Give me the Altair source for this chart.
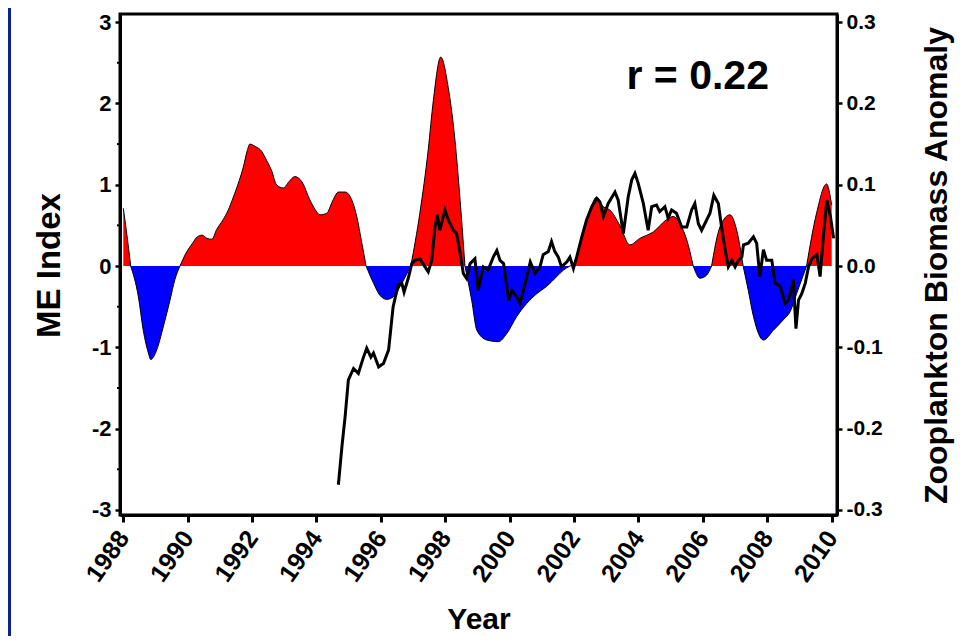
import altair as alt
import pandas as pd

# ---------------- data ----------------
me_year = [1988.00, 1988.10, 1988.23, 1988.47, 1988.62, 1988.78, 1988.85, 1989.04, 1989.24, 1989.45,
           1989.60, 1989.76, 1989.95, 1990.15, 1990.30, 1990.45, 1990.60, 1990.75, 1990.90, 1991.10,
           1991.25, 1991.42, 1991.60, 1991.73, 1991.85, 1991.93, 1992.10, 1992.30, 1992.45, 1992.60,
           1992.76, 1992.97, 1993.15, 1993.33, 1993.54, 1993.80, 1993.95, 1994.11, 1994.32, 1994.50,
           1994.68, 1994.89, 1995.10, 1995.25, 1995.40, 1995.54, 1995.77, 1995.97, 1996.18, 1996.38,
           1996.60, 1996.80, 1996.93, 1997.21, 1997.47, 1997.63, 1997.86, 1998.09, 1998.30, 1998.46,
           1998.61, 1998.82, 1998.98, 1999.29, 1999.65, 1999.91, 2000.22, 2000.53, 2000.84, 2001.15,
           2001.46, 2001.67, 2001.87, 2001.98, 2002.18, 2002.39, 2002.55, 2002.70, 2002.91, 2003.11,
           2003.42, 2003.73, 2004.04, 2004.46, 2004.87, 2005.08, 2005.29, 2005.50, 2005.70, 2005.91,
           2006.12, 2006.27, 2006.53, 2006.84, 2007.05, 2007.25, 2007.41, 2007.57, 2007.88, 2008.19,
           2008.50, 2008.71, 2008.91, 2009.22, 2009.53, 2009.84, 2010.00]

me_value = [0.71, 0.42, 0.0, -0.38, -0.79, -1.07, -1.15, -1.03, -0.75, -0.42,
            -0.17, 0.0, 0.16, 0.28, 0.36, 0.38, 0.34, 0.33, 0.45, 0.57,
            0.68, 0.85, 1.05, 1.22, 1.42, 1.50, 1.47, 1.41, 1.30, 1.18,
            1.00, 0.96, 1.04, 1.10, 1.04, 0.81, 0.70, 0.63, 0.65, 0.80,
            0.91, 0.91, 0.81, 0.61, 0.30, 0.0, -0.21, -0.36, -0.41, -0.38,
            -0.25, -0.10, 0.0, 0.65, 1.43, 2.04, 2.57, 2.20, 1.55, 0.81,
            0.0, -0.42, -0.79, -0.91, -0.93, -0.83, -0.62, -0.46, -0.34, -0.25,
            -0.13, -0.05, 0.0, 0.03, 0.28, 0.57, 0.75, 0.85, 0.73, 0.69,
            0.50, 0.26, 0.34, 0.42, 0.57, 0.61, 0.52, 0.32, 0.0, -0.15,
            -0.11, 0.0, 0.48, 0.63, 0.44, 0.0, -0.30, -0.62, -0.91, -0.79,
            -0.66, -0.56, -0.34, 0.0, 0.65, 1.01, 0.75]

zoo_year = [1994.68, 1994.79, 1994.89, 1994.99, 1995.15, 1995.30, 1995.46, 1995.56, 1995.69, 1995.77,
            1995.93, 1996.08, 1996.24, 1996.38, 1996.54, 1996.65, 1996.72, 1996.85, 1996.96, 1997.06,
            1997.21, 1997.37, 1997.47, 1997.58, 1997.68, 1997.75, 1997.83, 1997.99, 1998.09, 1998.25,
            1998.35, 1998.46, 1998.56, 1998.66, 1998.77, 1998.92, 1999.02, 1999.18, 1999.33, 1999.49,
            1999.60, 1999.70, 1999.81, 1999.97, 2000.07, 2000.22, 2000.32, 2000.48, 2000.64, 2000.79,
            2000.94, 2001.04, 2001.20, 2001.30, 2001.40, 2001.51, 2001.61, 2001.77, 2001.87, 2001.98,
            2002.08, 2002.24, 2002.39, 2002.55, 2002.70, 2002.80, 2002.91, 2003.06, 2003.27, 2003.37,
            2003.53, 2003.68, 2003.79, 2003.89, 2003.99, 2004.15, 2004.30, 2004.41, 2004.56, 2004.66,
            2004.82, 2004.92, 2005.03, 2005.18, 2005.34, 2005.50, 2005.65, 2005.75, 2005.86, 2005.96,
            2006.06, 2006.22, 2006.34, 2006.48, 2006.58, 2006.69, 2006.79, 2006.90, 2007.00, 2007.10,
            2007.21, 2007.26, 2007.41, 2007.57, 2007.67, 2007.77, 2007.88, 2007.98, 2008.14, 2008.24,
            2008.40, 2008.55, 2008.66, 2008.76, 2008.81, 2008.89, 2008.97, 2009.07, 2009.18, 2009.28,
            2009.39, 2009.54, 2009.64, 2009.75, 2009.85, 2009.96, 2010.06]

zoo_anom = [-0.269, -0.222, -0.185, -0.140, -0.126, -0.132, -0.112, -0.101, -0.112, -0.107,
            -0.124, -0.120, -0.103, -0.050, -0.023, -0.021, -0.032, -0.015, 0.003, 0.007,
            0.009, -0.001, -0.007, 0.007, 0.048, 0.063, 0.044, 0.069, 0.057, 0.044,
            0.040, 0.016, -0.009, -0.015, 0.003, 0.009, -0.030, -0.001, -0.005, 0.011,
            0.019, 0.007, 0.003, -0.042, -0.030, -0.038, -0.046, -0.021, 0.005, -0.009,
            -0.001, 0.014, 0.018, 0.030, 0.018, 0.011, -0.001, 0.005, 0.011, -0.003,
            0.011, 0.036, 0.057, 0.073, 0.083, 0.079, 0.061, 0.077, 0.091, 0.081,
            0.040, 0.085, 0.106, 0.114, 0.102, 0.077, 0.044, 0.073, 0.075, 0.067,
            0.073, 0.059, 0.069, 0.065, 0.048, 0.048, 0.069, 0.077, 0.052, 0.044,
            0.052, 0.065, 0.087, 0.077, 0.048, 0.020, -0.001, 0.007, -0.001, 0.007,
            0.011, 0.026, 0.028, 0.036, 0.028, -0.013, 0.020, 0.007, 0.007, -0.021,
            -0.025, -0.046, -0.042, -0.025, -0.017, -0.077, -0.042, -0.034, -0.021, -0.001,
            0.009, 0.014, -0.013, 0.040, 0.081, 0.061, 0.034]

year_ticks = [1988, 1990, 1992, 1994, 1996, 1998, 2000, 2002, 2004, 2006, 2008, 2010]
me_ticks = [-3, -2, -1, 0, 1, 2, 3]
me_minor_ticks = [-2.5, -1.5, -0.5, 0.5, 1.5, 2.5]
zoo_ticks = [-0.3, -0.2, -0.1, 0.0, 0.1, 0.2, 0.3]

ann_text = ["r = 0.22"]
ann_x = [2005.84]
ann_y = [2.18]

# ---------------- tables ----------------
segs = []
cur = []
cur_sign = None
for yr, v in zip(me_year, me_value):
    if v == 0:
        cur.append((yr, v))
        segs.append((cur_sign, cur))
        cur = [(yr, v)]
        cur_sign = None
    else:
        s = "pos" if v > 0 else "neg"
        if cur_sign is None:
            cur_sign = s
        cur.append((yr, v))
segs.append((cur_sign, cur))

rows = []
for i, (s, pts) in enumerate(segs):
    if s is None or len(pts) < 2:
        continue
    for yr, v in pts:
        rows.append({"year": yr, "me": v, "seg": i, "sign": s})
me_df = pd.DataFrame(rows)
zoo_df = pd.DataFrame({"year": zoo_year, "zoo": zoo_anom})
minor_df = pd.DataFrame({"me": me_minor_ticks})
ann_df = pd.DataFrame({"year": ann_x, "me": ann_y, "t": ann_text})

# ---------------- styling ----------------
FONT = "Liberation Sans, Arial, sans-serif"
BORDER_BLUE = "#0c2290"
minus_fix = "replace(datum.label, '\u2212', '-')"

x_scale = alt.Scale(domain=[1987.898, 2010.165], nice=False, zero=False)
y_scale = alt.Scale(domain=[-3.062, 3.1], nice=False, zero=False)
z_scale = alt.Scale(domain=[-0.3062, 0.31], nice=False, zero=False)

axis_common = dict(domainColor="black", domainWidth=3, tickColor="black",
                   labelColor="black", labelFont=FONT, labelFontWeight="bold",
                   titleColor="black", titleFont=FONT, titleFontWeight="bold",
                   grid=False, labelFlush=False, labelOverlap=False)

x_axis = alt.Axis(title="Year", values=year_ticks, format="d",
                  labelAngle=305, labelAlign="right", labelBaseline="middle",
                  labelPadding=11, labelFontSize=25, tickSize=7, tickWidth=3,
                  titleFontSize=30, titleX=358.5, titleY=113,
                  titleBaseline="alphabetic", titleAlign="center", **axis_common)

y_axis = alt.Axis(title="ME Index", orient="left", values=me_ticks, format="d",
                  labelExpr=minus_fix, labelFontSize=22, labelPadding=4,
                  tickSize=5, tickWidth=2.5, titleFontSize=33, titleAngle=270,
                  titleX=-61, titleY=251, titleBaseline="alphabetic",
                  titleAlign="center", **axis_common)

z_axis = alt.Axis(title="Zooplankton Biomass Anomaly", orient="right",
                  values=zoo_ticks, format=".1f", labelExpr=minus_fix,
                  labelFontSize=21, labelPadding=4, tickSize=5, tickWidth=2.5,
                  titleFontSize=32, titleAngle=270, titleX=109, titleY=251,
                  titleBaseline="alphabetic", titleAlign="center", **axis_common)

X = alt.X("year:Q", scale=x_scale, axis=x_axis)
Y = alt.Y("me:Q", scale=y_scale, axis=y_axis, stack=None)

# ---------------- layers ----------------
area = alt.Chart(me_df).mark_area(interpolate="monotone").encode(
    x=X, y=Y, y2=alt.datum(0),
    color=alt.Color("sign:N", scale=alt.Scale(domain=["pos", "neg"],
                                              range=["#ff0000", "#0000ff"]),
                    legend=None),
    detail="seg:N",
)

outline = alt.Chart(me_df).mark_line(color="black", strokeWidth=1,
                                     interpolate="monotone").encode(
    x=X, y=Y, detail="seg:N",
)

minor = alt.Chart(minor_df).mark_rule(color="black", strokeWidth=2).encode(
    y=Y, x=alt.value(-3), x2=alt.value(0),
)

ann = alt.Chart(ann_df).mark_text(font=FONT, fontSize=41, fontWeight="bold",
                                  align="center", baseline="alphabetic",
                                  color="black").encode(
    x=X, y=Y, text="t:N",
)

strip = alt.Chart(pd.DataFrame({"a": [0]})).mark_rect(color=BORDER_BLUE).encode(
    x=alt.value(-112), x2=alt.value(-109), y=alt.value(-6), y2=alt.value(628)
)

zoo = alt.Chart(zoo_df).mark_line(color="black", strokeWidth=3).encode(
    x=X,
    y=alt.Y("zoo:Q", scale=z_scale, axis=z_axis),
)

me_layer = alt.layer(area, outline, minor, ann, strip)

chart = (
    alt.layer(me_layer, zoo)
    .resolve_scale(y="independent")
    .properties(width=717, height=501,
                padding={"left": 112, "top": 6, "right": 127, "bottom": 121},
                autosize=alt.AutoSizeParams(type="none"),
                background="white")
    .configure_view(stroke="black", strokeWidth=3)
)

chart.save("out.html", embed_options={"renderer": "svg", "actions": False})
